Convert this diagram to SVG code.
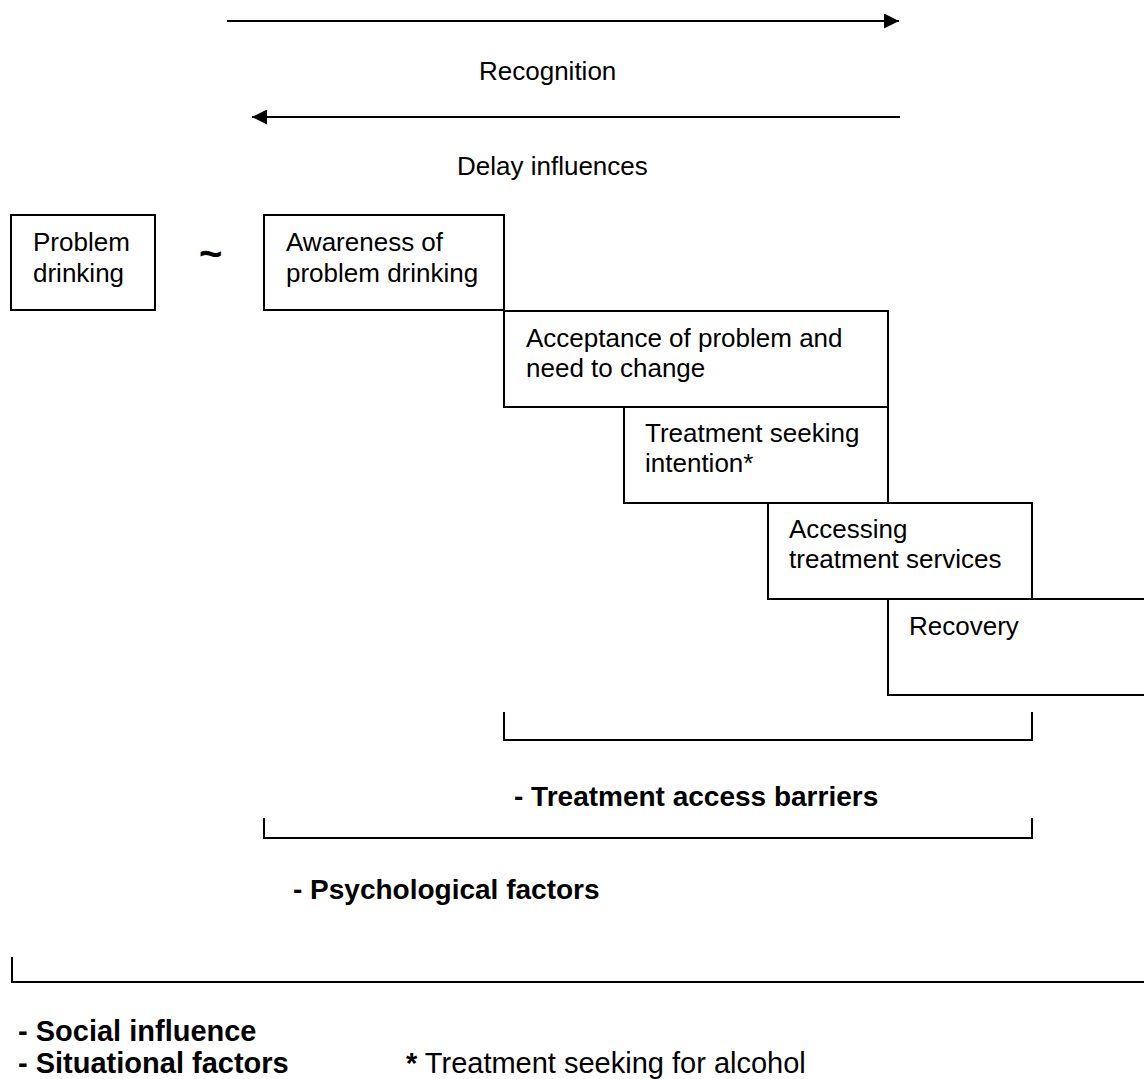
<svg xmlns="http://www.w3.org/2000/svg" width="1144" height="1079" viewBox="0 0 1144 1079">
<defs>
<marker id="ah" viewBox="0 0 15 15" refX="15" refY="7.5" markerWidth="15" markerHeight="15" markerUnits="userSpaceOnUse" orient="auto">
<path d="M0,0 L15,7.5 L0,15 Z" fill="#000"/>
</marker>
</defs>
<style>
.box{fill:#fff;stroke:#000;stroke-width:2}
.t{font-family:"Liberation Sans",Arial,sans-serif;font-size:26px;fill:#000}
.b{font-family:"Liberation Sans",Arial,sans-serif;font-size:28px;font-weight:bold;fill:#000}
.b2{font-family:"Liberation Sans",Arial,sans-serif;font-size:29px;font-weight:bold;fill:#000}
.f{font-family:"Liberation Sans",Arial,sans-serif;font-size:29px;fill:#000}
.ln{fill:none;stroke:#000;stroke-width:2}
</style>
<rect width="1144" height="1079" fill="#fff"/>
<g id="connectors">
<line class="ln" x1="227" y1="21" x2="899" y2="21" marker-end="url(#ah)"/>
<line class="ln" x1="900" y1="117" x2="252" y2="117" marker-end="url(#ah)"/>
<path class="ln" d="M504,712 V740 H1032 V712"/>
<path class="ln" d="M264,818 V838 H1032 V818"/>
<path class="ln" d="M12,957 V982 H1144"/>
</g>
<g id="labels">
<text class="t" x="479" y="80">Recognition</text>
<text class="t" x="457" y="175">Delay influences</text>
<text class="b" x="514" y="806">- Treatment access barriers</text>
<text class="b" x="293" y="899">- Psychological factors</text>
<text class="b2" x="18" y="1041">- Social influence</text>
<text class="b2" x="18" y="1073">- Situational factors</text>
<text class="f" x="406" y="1073"><tspan font-weight="bold">*</tspan> Treatment seeking for alcohol</text>
</g>
<g id="node-problem">
<rect class="box" x="11" y="215" width="144" height="95"/>
<text class="t" x="33" y="251">Problem</text>
<text class="t" x="33" y="282">drinking</text>
</g>
<g id="tilde">
<text class="b" x="199" y="267" style="font-size:40px">~</text>
</g>
<g id="node-awareness">
<rect class="box" x="264" y="215" width="240" height="95"/>
<text class="t" x="286" y="251">Awareness of</text>
<text class="t" x="286" y="282">problem drinking</text>
</g>
<g id="node-acceptance">
<rect class="box" x="504" y="311" width="384" height="96"/>
<text class="t" x="526" y="347">Acceptance of problem and</text>
<text class="t" x="526" y="377">need to change</text>
</g>
<g id="node-intention">
<rect class="box" x="624" y="407" width="264" height="96"/>
<text class="t" x="645" y="442">Treatment seeking</text>
<text class="t" x="645" y="472">intention*</text>
</g>
<g id="node-accessing">
<rect class="box" x="768" y="503" width="264" height="96"/>
<text class="t" x="789" y="538">Accessing</text>
<text class="t" x="789" y="568">treatment services</text>
</g>
<g id="node-recovery">
<rect class="box" x="888" y="599" width="270" height="96"/>
<text class="t" x="909" y="635">Recovery</text>
</g>
</svg>
